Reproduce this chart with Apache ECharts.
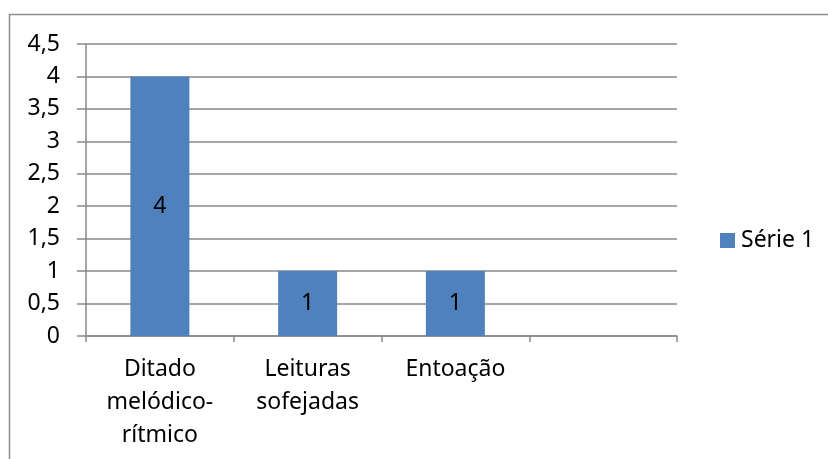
<!DOCTYPE html>
<html>
<head>
<meta charset="utf-8">
<script src="https://cdn.jsdelivr.net/npm/echarts@6/dist/echarts.min.js"></script>
<style>
  html, body { margin: 0; padding: 0; background: #fff; }
  #chart { width: 828px; height: 459px; }
</style>
</head>
<body>
<div id="chart"></div>
<script>
// Categories (last slot is intentionally blank) and values
const categories = ['Ditado\nmelódico-\nrítmico', 'Leituras\nsofejadas', 'Entoação', ''];
const serie1 = [4, 1, 1, null];
const seriesName = 'Série 1';
const yMin = 0, yMax = 4.5, yStep = 0.5;

const FONT = '"Noto Sans", "Open Sans", sans-serif';
const FS = 23;
const GRAY = '#898989';

const chart = echarts.init(document.getElementById('chart'), null, { renderer: 'canvas' });
chart.setOption({
  animation: false,
  backgroundColor: '#ffffff',
  textStyle: { fontFamily: FONT },
  graphic: [{
    type: 'rect',
    shape: { x: 9.5, y: 14.5, width: 900, height: 600 },
    style: { fill: 'none', stroke: '#8c8c8c', lineWidth: 1.5 },
    silent: true
  }],
  grid: { left: 86, right: 151, top: 44, bottom: 123 },
  legend: {
    left: 720, top: 229, padding: 0,
    itemWidth: 15, itemHeight: 15, itemGap: 10,
    icon: 'rect',
    textStyle: { fontFamily: FONT, fontSize: FS, color: '#000', padding: [0, 0, 0, 1] },
    data: [seriesName]
  },
  xAxis: {
    type: 'category',
    data: categories,
    axisLine: { lineStyle: { color: GRAY, width: 1.5 } },
    axisTick: { show: true, length: 6, lineStyle: { color: GRAY, width: 1.5 } },
    axisLabel: {
      interval: 0, margin: 17, color: '#000',
      fontFamily: FONT, fontSize: FS, lineHeight: 33, align: 'center'
    }
  },
  yAxis: {
    type: 'value',
    min: yMin, max: yMax, interval: yStep,
    axisLine: { show: true, lineStyle: { color: GRAY, width: 1.5 } },
    axisTick: { show: true, length: 9, lineStyle: { color: GRAY, width: 1.5 } },
    splitLine: { lineStyle: { color: GRAY, width: 1.5 } },
    axisLabel: {
      margin: 26, color: '#000', fontFamily: FONT, fontSize: FS,
      formatter: v => String(v).replace('.', ',')
    }
  },
  series: [{
    name: seriesName,
    type: 'bar',
    data: serie1,
    barWidth: 59,
    itemStyle: { color: '#4f81bd' },
    label: {
      show: true, position: 'inside', color: '#000',
      fontFamily: FONT, fontSize: FS
    }
  }]
});
</script>
</body>
</html>
